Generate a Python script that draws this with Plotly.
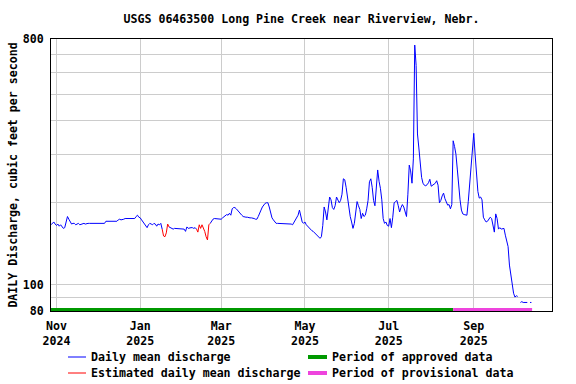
import pandas as pd
import plotly.graph_objects as go

# ---------------- data ----------------
start_date = "2024-10-28"   # first daily value

# daily mean discharge, cubic feet per second (None = no value)
discharge = [
    166, 168, 170, 167, 165, 167, 164, 166, 163, 161,          # d0-9
    162, 172, 178, 174, 170, 167, 168, 168, 166, 167,          # d10-19
    168, 166, 167, 168, 168, 167, 168, 168, 168, 168,          # d20-29
    168, 168, 168, 168, 168, 168, 168, 168, 168, 168,          # d30-39
    171, 171, 171, 171, 171, 171, 171, 172, 171, 173,          # d40-49
    174, 173, 173, 174, 175, 175, 175, 175, 175, 175,          # d50-59
    175, 175, 178, 180, 177, 176, 173, 170, 166, 164,          # d60-69
    162, 166, 168, 167, 166, 168, 167, 164, 167, 166,          # d70-79
    168, 160, 151, 150, 155, 167, 163, 162, 161, 160,          # d80-89
    161, 161, 161, 161, 160, 161, 161, 160, 157, 163,          # d90-99
    161, 162, 162, 162, 161, 162, 160, 156, 166, 161,          # d100-109
    166, 162, 157, 150, 146, 166, 168, 172, 174, 175,          # d110-119
    175, 175, 174, 174, 174, 176, 178, 180, 181, 180,          # d120-129
    183, 180, 190, 192, 192, 190, 187, 185, 183, 180,          # d130-139
    178, 177, 177, 177, 176, 176, 176, 176, 175, 174,          # d140-149
    174, 178, 182, 188, 193, 196, 199, 200, 200, 193,          # d150-159
    182, 176, 173, 170, 168, 168, 168, 168, 168, 168,          # d160-169
    168, 168, 168, 168, 168, 167, 166, 170, 172, 176,          # d170-179
    180, 188, 177, 170, 168, 170, 166, 164, 161, 160,          # d180-189
    158, 157, 155, 153, 151, 149, 148, 150, 165, 193,          # d190-199
    185, 173, 188, 210, 205, 192, 189, 195, 210, 204,          # d200-209
    200, 204, 215, 245, 243, 228, 210, 190, 178, 170,          # d210-219
    161, 168, 190, 202, 195, 189, 175, 183, 178, 180,          # d220-229
    190, 204, 239, 245, 228, 204, 195, 228, 264, 240,          # d230-239
    226, 205, 175, 168, 170, 165, 164, 175, 162, 177,          # d240-249
    200, 202, 204, 195, 185, 192, 197, 193, 186, 178,          # d250-259
    215, 275, 262, 236, 290, 760, 640, 358, 318, 268,          # d260-269
    248, 236, 232, 231, 233, 237, 244, 230, 232, 234,          # d270-279
    236, 241, 232, 200, 204, 212, 217, 207, 201, 196,          # d280-289
    197, 190, 197, 338, 322, 302, 266, 228, 205, 188,          # d290-299
    182, 181, 180, 180, 202, 235, 287, 330, 360, 300,          # d300-309
    245, 220, 208, 210, 205, 177, 173, 170, 171, 175,          # d310-319
    177, 175, 165, 156, 182, 175, 160, 162, 160, 161,          # d320-329
    161, 152, 146, 138, 118, 109, 100, 93, 90, 91,             # d330-339
    90.5, None, 86, 86.6, 86, 86, 86, 86, None, 86,            # d340-349
    86,                                                        # d350
]

# periods of estimated daily values (inclusive)
estimated_periods = [("2025-01-18", "2025-01-21"), ("2025-02-12", "2025-02-20")]

# data-status periods
approved_period = ("2024-10-28", "2025-08-17")
provisional_period = ("2025-08-17", "2025-10-13 12:00")
status_bar_level = 80.6   # cfs, drawn along the bottom of the chart

x_range = ["2024-10-28", "2025-10-28"]
x_tick_dates = ["2024-11-01", "2025-01-01", "2025-03-01", "2025-05-01", "2025-07-01", "2025-09-01"]
x_tick_labels = ["Nov<br>2024", "Jan<br>2025", "Mar<br>2025", "May<br>2025", "Jul<br>2025", "Sep<br>2025"]
y_tick_vals = [80, 100, 800]
y_tick_labels = ["80", "100", "800"]
y_minor_grid = [90, 200, 300, 400, 500, 600, 700]

title_text = "USGS 06463500 Long Pine Creek near Riverview, Nebr."
y_title = "DAILY Discharge, cubic feet per second"

# legend entries: (label, colour, line width)
legend_entries = [
    ("Daily mean discharge", "#0000ff", 1),
    ("Estimated daily mean discharge", "#ff0000", 1),
    ("Period of approved data", "#009900", 4),
    ("Period of provisional data", "#ee44dd", 4),
]

# ---------------- build series ----------------
dates = pd.date_range(start_date, periods=len(discharge), freq="D")
s = pd.Series(discharge, index=dates, dtype="float")

est_mask = pd.Series(False, index=dates)
for a, b in estimated_periods:
    est_mask[(dates >= a) & (dates <= b)] = True

blue = s.where(~est_mask)
# red: estimated days plus the neighbouring measured days so the line joins
red_mask = est_mask | est_mask.shift(1, fill_value=False) | est_mask.shift(-1, fill_value=False)
red = s.where(red_mask)

FONT = "DejaVu Sans Mono"
fsize = 11.6
axis_font = dict(family=FONT, size=fsize, color="black", weight="bold")

W, H = 576, 384
ML, MR, MT, MB = 51, 24, 39, 73
PW, PH = W - ML - MR, H - MT - MB

fig = go.Figure()
fig.add_trace(go.Scatter(x=blue.index, y=blue.values, mode="lines",
                         line=dict(color=legend_entries[0][1], width=1),
                         name=legend_entries[0][0], connectgaps=False))
fig.add_trace(go.Scatter(x=red.index, y=red.values, mode="lines",
                         line=dict(color=legend_entries[1][1], width=1),
                         name=legend_entries[1][0], connectgaps=False))
fig.add_trace(go.Scatter(x=list(approved_period), y=[status_bar_level] * 2, mode="lines",
                         line=dict(color=legend_entries[2][1], width=4),
                         name=legend_entries[2][0], cliponaxis=False))
fig.add_trace(go.Scatter(x=list(provisional_period), y=[status_bar_level] * 2, mode="lines",
                         line=dict(color=legend_entries[3][1], width=4),
                         name=legend_entries[3][0], cliponaxis=False))

# legend laid out as in the reference: two columns, two rows, short line samples
def px_x(px):
    return (px - ML) / PW

def px_y(py):
    return (MT + PH - py) / PH

leg_cols = [(68, 86, 89), (308, 327, 330)]   # sample start, sample end, text start (px)
leg_rows = [357, 373]                          # row centres (px)
shapes, annots = [], []
for i, (label, color, width) in enumerate(legend_entries):
    col, row = divmod(i, 2)
    x0, x1, xt = leg_cols[col]
    yy = leg_rows[row]
    shapes.append(dict(type="line", xref="paper", yref="paper",
                       x0=px_x(x0), x1=px_x(x1), y0=px_y(yy), y1=px_y(yy),
                       line=dict(color=color, width=width)))
    annots.append(dict(text=label, xref="paper", yref="paper", x=px_x(xt), y=px_y(yy - 0.5),
                       xanchor="left", yanchor="middle", showarrow=False, font=axis_font))

fig.update_layout(
    width=W, height=H,
    margin=dict(l=ML, r=MR, t=MT, b=MB, autoexpand=False),
    paper_bgcolor="white", plot_bgcolor="white",
    font=axis_font,
    title=dict(text=title_text, x=0.5, xref="paper", xanchor="center",
               y=1 - 19 / H, yref="container", yanchor="middle",
               font=axis_font),
    showlegend=False,
    shapes=shapes, annotations=annots,
    xaxis=dict(type="date", range=x_range, tickmode="array",
               tickvals=x_tick_dates, ticktext=x_tick_labels,
               showgrid=True, gridcolor="#cccccc", gridwidth=1,
               showline=True, linecolor="black", linewidth=1, mirror=True,
               ticks="", zeroline=False, layer="below traces",
               ticklabelstandoff=4, automargin=False,
               tickfont=axis_font),
    yaxis=dict(type="log", range=[1.90309, 2.90309], tickmode="array",
               tickvals=y_tick_vals, ticktext=y_tick_labels,
               showgrid=True, gridcolor="#cccccc", gridwidth=1,
               minor=dict(tickmode="array", tickvals=y_minor_grid, showgrid=True,
                          gridcolor="#cccccc", gridwidth=1, ticks=""),
               showline=True, linecolor="black", linewidth=1, mirror=True,
               ticks="", zeroline=False, layer="below traces",
               ticklabelstandoff=4, automargin=False,
               title=dict(text=y_title, font=axis_font, standoff=2),
               tickfont=axis_font),
)

fig.write_html("out.html", config={"displayModeBar": False},
               post_script="document.body.style.margin='0';")
